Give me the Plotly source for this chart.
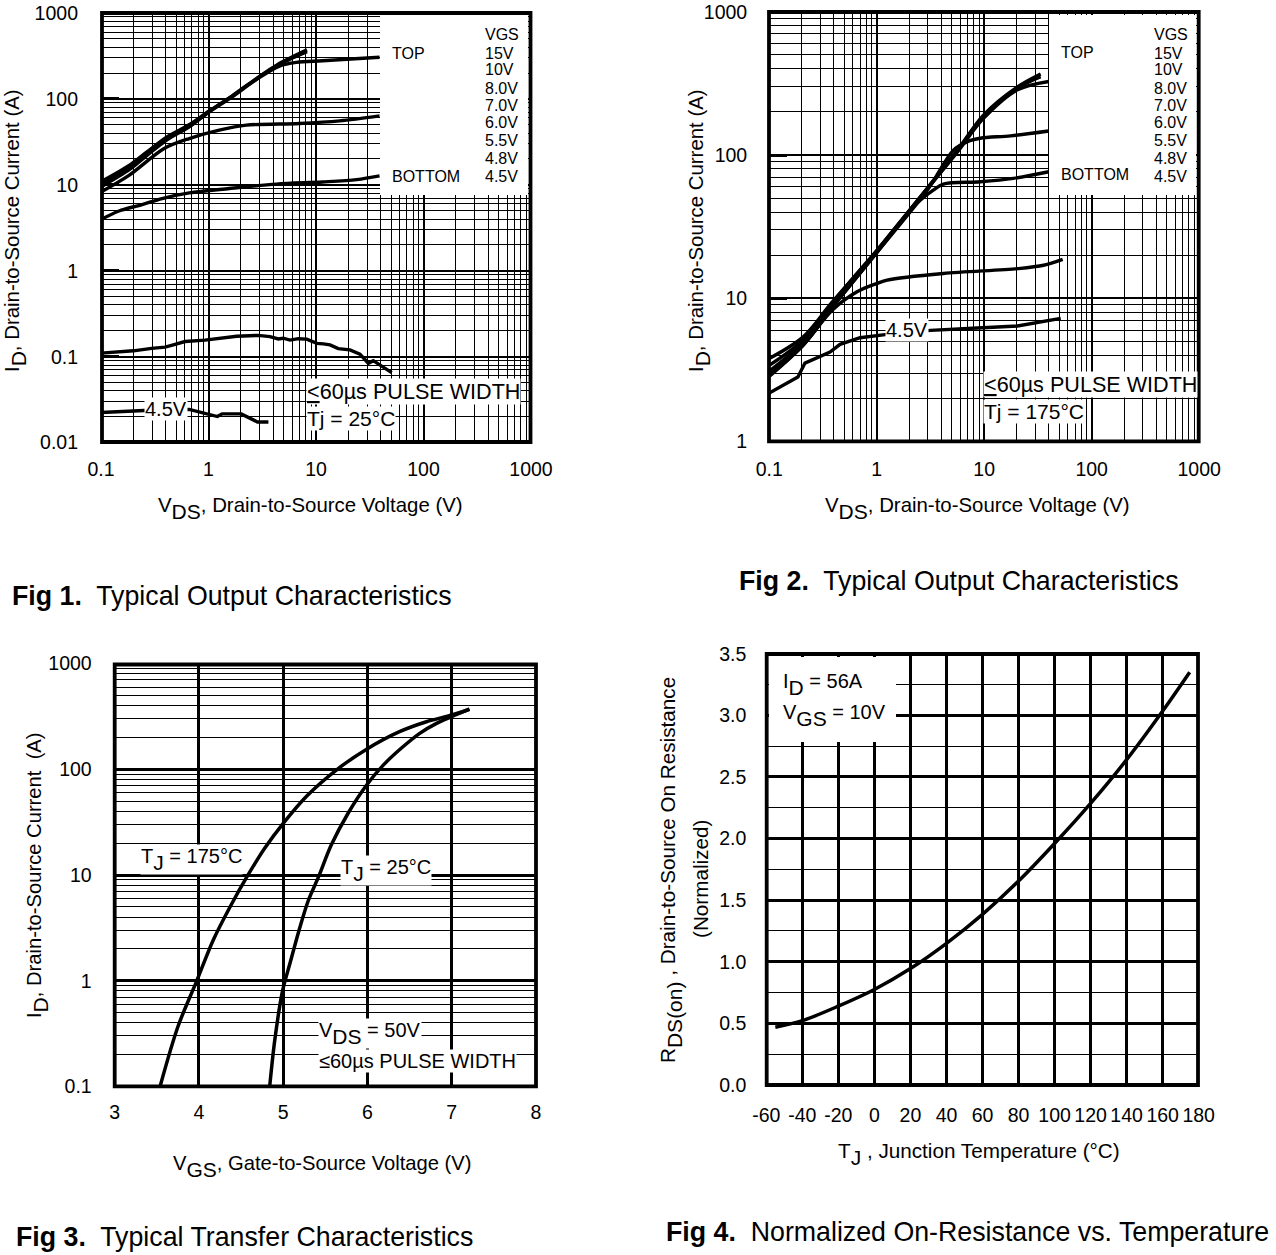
import plotly.graph_objects as go

W, H = 1276, 1255
BLACK = "#000000"
FONT = "Liberation Sans"

# ---------- Fig 1 data (25 C) ----------
f1_top_x = [0.1, 0.186, 0.268, 0.411, 0.673, 0.99, 1.65, 2.83, 4.34, 8.25]
f1_15v_y = [10.9, 17.1, 24.2, 36.1, 50.7, 71, 108, 175, 249, 372]
f1_10v_y = [10.2, 16.4, 23.4, 35.2, 49.6, 70, 107, 173, 245, 355]
f1_8v_x = [0.1, 0.186, 0.268, 0.411, 0.673, 0.99, 1.65, 2.83, 4.57, 6.58, 11.5, 39]
f1_8v_y = [9.46, 15.2, 22, 33.5, 48, 69, 105, 170, 241, 266, 278, 305]
f1_7v_x = [0.1, 0.182, 0.387, 0.662, 1.26, 2.25, 7.0, 16.6, 39]
f1_7v_y = [8.26, 12.9, 26.5, 34.6, 43.3, 49.5, 51.8, 55.6, 63.5]
f1_6v_x = [0.1, 0.147, 0.241, 0.37, 0.662, 1.56, 4.28, 11.5, 23.9, 39]
f1_6v_y = [3.94, 4.96, 5.89, 6.92, 8.05, 9.06, 10.2, 10.8, 11.5, 12.7]
f1_48v_x = [0.1, 0.2, 0.296, 0.394, 0.471, 0.604, 0.927, 1.37, 1.83, 2.9, 3.73, 4.46, 4.96,
            5.73, 6.84, 8.19, 10.2, 11.7, 13.5, 16.1, 20.7, 25.6, 30.7, 34.1, 50.6]
f1_48v_y = [0.110, 0.117, 0.125, 0.129, 0.137, 0.150, 0.156, 0.166, 0.173, 0.177, 0.171, 0.161, 0.164,
            0.156, 0.162, 0.160, 0.143, 0.141, 0.137, 0.124, 0.120, 0.107, 0.0838, 0.0898, 0.0652]
f1_45v_x = [0.1, 0.252, 0.662, 1.21, 1.34, 2.02, 2.85, 3.61]
f1_45v_y = [0.0224, 0.0236, 0.0243, 0.0201, 0.0216, 0.0216, 0.0174, 0.0174]

# ---------- Fig 2 data (175 C) ----------
f2_top_x = [0.1, 0.206, 0.385, 1.01, 1.43, 2.96, 5.64, 9.85, 20.4, 33.5]
f2_15v_y = [3.8, 5.36, 9.4, 21.7, 29.9, 58.8, 108, 190, 299, 368]
f2_10v_y = [3.4, 5.09, 9.23, 21.6, 29.7, 58.4, 107, 187, 293, 352]
f2_8v_x = [0.1, 0.206, 0.385, 1.01, 2.96, 5.64, 9.85, 20.4, 39.8]
f2_8v_y = [3.1, 4.9, 8.9, 21.5, 58, 105, 180, 285, 326]
f2_7v_x = [0.1, 0.206, 0.385, 1.01, 2.96, 5.18, 6.98, 9.2, 17.6, 39.8]
f2_7v_y = [2.9, 4.7, 8.6, 21, 57, 108, 124, 131, 136, 147]
f2_6v_x = [0.1, 0.206, 0.385, 1.01, 2.38, 3.36, 4.17, 9.2, 18.7, 39.8]
f2_6v_y = [2.85, 4.7, 8.6, 21, 46.2, 56.9, 62.7, 65, 68.7, 76.4]
f2_55v_x = [0.1, 0.206, 0.385, 0.656, 1.01, 1.25, 4.17, 20.4, 35.7, 53.7]
f2_55v_y = [2.9, 4.7, 8.24, 11.1, 12.7, 13.4, 14.9, 16.1, 17, 18.7]
f2_45v_x = [0.1, 0.185, 0.215, 0.368, 0.456, 0.70, 1.25, 3.16, 8.67, 20.4, 51.5]
f2_45v_y = [2.18, 2.82, 3.53, 4.21, 4.77, 5.31, 5.6, 5.97, 6.2, 6.41, 7.25]

# ---------- Fig 3 data ----------
f3_175_x = [3.54, 3.75, 3.97, 4.17, 4.37, 4.57, 4.78, 5.0, 5.28, 5.63, 5.99, 6.38, 6.70, 7.0, 7.21]
f3_175_y = [0.101, 0.367, 0.98, 2.43, 5.01, 9.64, 17.9, 30.8, 55.9, 98.4, 155, 227, 282, 326, 370]
f3_25_x = [4.84, 4.90, 4.99, 5.08, 5.2, 5.3, 5.42, 5.57, 5.77, 5.99, 6.19, 6.40, 6.62, 6.82, 7.0, 7.21]
f3_25_y = [0.101, 0.275, 0.787, 1.46, 3.24, 5.8, 9.64, 19.2, 38.4, 71, 110, 158, 219, 272, 315, 370]

# ---------- Fig 4 data ----------
f4_t = [-55, -40, -20, 0, 20, 40, 60, 80, 100, 120, 140, 160, 175]
f4_r = [0.469, 0.522, 0.640, 0.775, 0.945, 1.150, 1.385, 1.655, 1.960, 2.285, 2.640, 3.035, 3.35]

# ---------- tick labels ----------
decade_vals = [0.1, 1, 10, 100, 1000]
decade_text = ["0.1", "1", "10", "100", "1000"]
f1_yvals = [0.01, 0.1, 1, 10, 100, 1000]
f1_ytext = ["0.01", "0.1", "1", "10", "100", "1000"]
f2_yvals = [1, 10, 100, 1000]
f2_ytext = ["1", "10", "100", "1000"]
f3_xvals = [3, 4, 5, 6, 7, 8]
f4_xvals = [-60, -40, -20, 0, 20, 40, 60, 80, 100, 120, 140, 160, 180]
f4_xtext = ["-60", "-40", "-20", "0", "20", "40", "60", "80", "100", "120", "140", "160", "180"]
f4_yvals = [0.0, 0.5, 1.0, 1.5, 2.0, 2.5, 3.0, 3.5]
f4_ytext = ["0.0", "0.5", "1.0", "1.5", "2.0", "2.5", "3.0", "3.5"]
vgs_labels = ["VGS", "15V", "10V", "8.0V", "7.0V", "6.0V", "5.5V", "4.8V", "4.5V"]


def px(x):
    return x / W


def py(y):
    return 1 - y / H


def log_axis(vals, text, major=2, standoff=8):
    return dict(
        type="log", automargin=False,
        tickmode="array", tickvals=vals, ticktext=text,
        showgrid=True, gridcolor=BLACK, gridwidth=major,
        minor=dict(showgrid=True, gridcolor=BLACK, gridwidth=1, dtick="D1", ticks=""),
        showline=False,
        zeroline=False, ticks="", ticklabelstandoff=standoff,
        tickfont=dict(family=FONT, size=19.5, color=BLACK),
    )


fig = go.Figure()


def curve(x, y, ax, name, shape="spline", width=3.4):
    fig.add_trace(go.Scatter(
        x=x, y=y, mode="lines", name=name, xaxis=f"x{ax}", yaxis=f"y{ax}",
        showlegend=False, line=dict(color=BLACK, width=width, shape=shape, smoothing=0.9),
    ))


curve(f1_top_x, f1_15v_y, 1, "15V")
curve(f1_top_x, f1_10v_y, 1, "10V")
curve(f1_8v_x, f1_8v_y, 1, "8.0V")
curve(f1_7v_x, f1_7v_y, 1, "7.0V")
curve(f1_6v_x, f1_6v_y, 1, "6.0V")
curve(f1_48v_x, f1_48v_y, 1, "4.8V", shape="linear")
curve(f1_45v_x, f1_45v_y, 1, "4.5V", shape="linear")

curve(f2_top_x, f2_15v_y, 2, "15V")
curve(f2_top_x, f2_10v_y, 2, "10V")
curve(f2_8v_x, f2_8v_y, 2, "8.0V")
curve(f2_7v_x, f2_7v_y, 2, "7.0V")
curve(f2_6v_x, f2_6v_y, 2, "6.0V")
curve(f2_55v_x, f2_55v_y, 2, "5.5V")
curve(f2_45v_x, f2_45v_y, 2, "4.5V", shape="linear")

curve(f3_175_x, f3_175_y, 3, "TJ = 175C", width=3.5)
curve(f3_25_x, f3_25_y, 3, "TJ = 25C", width=3.5)

curve(f4_t, f4_r, 4, "RDS(on)", width=3.5)

layout = dict(
    template="none",
    width=W, height=H, autosize=False,
    margin=dict(l=0, r=0, t=0, b=0, pad=0),
    paper_bgcolor="white", plot_bgcolor="white",
    showlegend=False,
    font=dict(family=FONT, color=BLACK),
)


def place(ax, name, l, r, t, b):
    ax = dict(ax)
    if name.startswith("x"):
        ax["domain"] = [px(l), px(r)]
        ax["anchor"] = "y" + name[1:]
    else:
        ax["domain"] = [py(b), py(t)]
        ax["anchor"] = "x" + name[1:]
    return ax


def lin_axis(rng, vals, text, standoff):
    return dict(
        automargin=False,
        range=rng, tickmode="array", tickvals=vals, ticktext=text,
        showgrid=True, gridcolor=BLACK, gridwidth=2.5,
        showline=False,
        zeroline=False, ticks="", ticklabelstandoff=standoff,
        tickfont=dict(family=FONT, size=19.5, color=BLACK),
    )


# Fig 1
B1 = (101, 531, 13, 442.6)
ax = log_axis(decade_vals, decade_text, standoff=13)
ax["range"] = [-1, 3]
layout["xaxis"] = place(ax, "x1", *B1)
ax = log_axis(f1_yvals, f1_ytext, standoff=22)
ax.update(range=[-2, 3], ticks="inside", ticklen=18, tickwidth=2.5, tickcolor=BLACK)
layout["yaxis"] = place(ax, "y1", *B1)
# Fig 2
B2 = (769.2, 1199.2, 11.7, 441.6)
ax = log_axis(decade_vals, decade_text, standoff=14)
ax["range"] = [-1, 3]
layout["xaxis2"] = place(ax, "x2", *B2)
ax = log_axis(f2_yvals, f2_ytext, standoff=21)
ax.update(range=[0, 3], ticks="inside", ticklen=18, tickwidth=2.5, tickcolor=BLACK)
layout["yaxis2"] = place(ax, "y2", *B2)
# Fig 3
B3 = (114.7, 536, 663.6, 1086.4)
ax = lin_axis([3, 8], f3_xvals, [str(v) for v in f3_xvals], 12)
layout["xaxis3"] = place(ax, "x3", *B3)
ax = log_axis(decade_vals, decade_text, major=3, standoff=22)
ax["range"] = [-1, 3]
layout["yaxis3"] = place(ax, "y3", *B3)
# Fig 4
B4 = (766.3, 1198.7, 653.7, 1085)
ax = lin_axis([-60, 180], f4_xvals, f4_xtext, 16)
layout["xaxis4"] = place(ax, "x4", *B4)
ax = lin_axis([0, 3.5], f4_yvals, f4_ytext, 19)
ax["minor"] = dict(showgrid=True, gridcolor=BLACK, gridwidth=1.2, dtick=0.25, ticks="")
layout["yaxis4"] = place(ax, "y4", *B4)

# White panels that interrupt the grids, then the heavy plot frames
panels = [(380, 528, 15, 195), (1049, 1196, 15, 195), (769, 896, 657, 742)]
frames = [(102, 530.5, 13, 442), (769, 1198.7, 12, 441.3), (114.7, 536, 664.5, 1086.4), (766.7, 1198, 654, 1085)]
layout["shapes"] = [
    dict(type="rect", xref="paper", yref="paper", x0=px(a), x1=px(b), y0=py(d), y1=py(c),
         fillcolor="white", line=dict(width=0), layer="above")
    for a, b, c, d in panels
] + [
    dict(type="rect", xref="paper", yref="paper", x0=px(a), x1=px(b), y0=py(d), y1=py(c),
         fillcolor="rgba(0,0,0,0)", line=dict(width=3.8, color=BLACK), layer="above")
    for a, b, c, d in frames
]

anns = []


def ann(text, x, y, size=19, xanchor="left", bg=None, angle=0):
    anns.append(dict(
        text=text, x=px(x), y=py(y), xref="paper", yref="paper",
        xanchor=xanchor, yanchor="middle", showarrow=False, textangle=angle,
        font=dict(family=FONT, size=size, color=BLACK),
        bgcolor=bg if bg else "rgba(0,0,0,0)", borderpad=0, align="left",
    ))


def sub(s, size=21, drop=7):
    return f'<span style="font-size:{size}px;baseline-shift:-{drop}px">{s}</span>'


# axis titles
ann("V" + sub("DS") + ", Drain-to-Source Voltage (V)", 310, 509, 20.4, "center")
ann("V" + sub("DS") + ", Drain-to-Source Voltage (V)", 978, 508, 20.4, "center")
ann("V" + sub("GS") + ", Gate-to-Source Voltage (V)", 322, 1166, 20.2, "center")
ann("T" + sub("J") + " , Junction Temperature (°C)", 979, 1154, 20.7, "center")
ann("I" + sub("D") + ", Drain-to-Source Current (A)", 16, 231, 20.4, "center", angle=-90)
ann("I" + sub("D") + ", Drain-to-Source Current (A)", 700, 231, 20.4, "center", angle=-90)
ann("I" + sub("D") + ", Drain-to-Source Current  (A)", 37, 875, 20.2, "center", angle=-90)
ann("R" + sub("DS(on)") + " , Drain-to-Source On Resistance", 671, 870, 20.7, "center", angle=-90)
ann("(Normalized)", 700, 879, 20.7, "center", angle=-90)

# figure captions
ann("<b>Fig 1.</b>  Typical Output Characteristics", 10.5, 596, 26.75)
ann("<b>Fig 2.</b>  Typical Output Characteristics", 738.5, 581, 26.75)
ann("<b>Fig 3.</b>  Typical Transfer Characteristics", 14.5, 1237, 26.75)
ann("<b>Fig 4.</b>  Normalized On-Resistance vs. Temperature", 664.5, 1232, 26.75)

# VGS lists
rows = [35, 53, 70, 88, 105, 123, 140, 158, 176]
for xoff in (484, 1153):
    for lab, r in zip(vgs_labels, rows):
        ann(lab, xoff, r, 16)
ann("TOP", 391, 53, 16)
ann("BOTTOM", 391, 176, 16)
ann("TOP", 1060, 52, 16)
ann("BOTTOM", 1060, 175, 16)

# in-plot notes
ann("<u>&lt;</u>60µs PULSE WIDTH", 306, 391, 21.6, bg="white")
ann("Tj = 25°C", 306, 418.5, 21, bg="white")
ann("4.5V", 166, 409, 20, "center", bg="white")
ann("<u>&lt;</u>60µs PULSE WIDTH", 983, 385, 21.6, bg="white")
ann("Tj = 175°C", 983, 412, 21, bg="white")
ann("4.5V", 907, 330, 20, "center", bg="white")
ann("T" + sub("J") + " = 175°C", 140, 860, 20, bg="white")
ann("T" + sub("J") + " = 25°C", 340, 870, 20, bg="white")
ann("V" + sub("DS") + " = 50V", 318, 1033, 20, bg="white")
ann("≤60µs PULSE WIDTH", 318, 1061, 20, bg="white")
ann("I" + sub("D") + " = 56A", 782, 684, 20)
ann("V" + sub("GS") + " = 10V", 782, 715, 20)

layout["annotations"] = anns
fig.update_layout(**layout)
fig.write_html("out.html", config={"displayModeBar": False},
               post_script="document.body.style.margin='0';")
